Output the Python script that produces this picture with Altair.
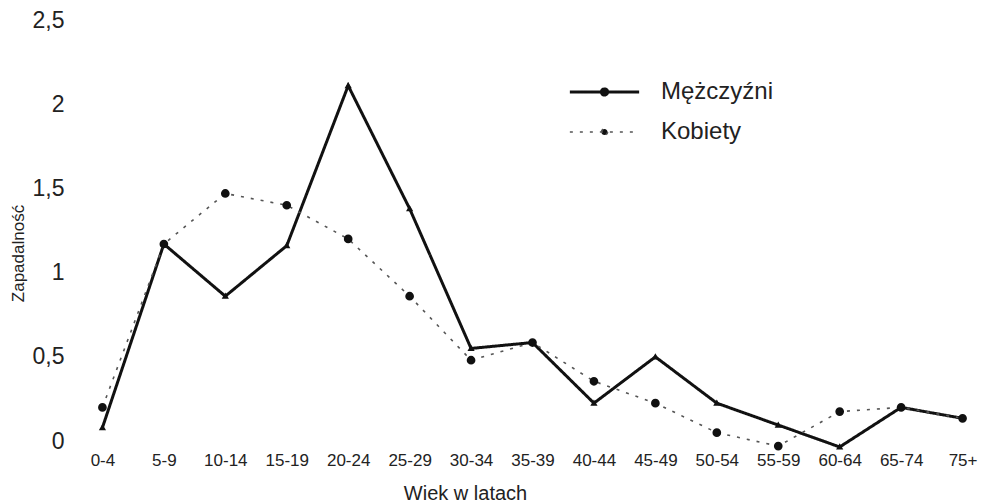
import altair as alt
import pandas as pd

categories = ["0-4", "5-9", "10-14", "15-19", "20-24", "25-29", "30-34", "35-39",
              "40-44", "45-49", "50-54", "55-59", "60-64", "65-74", "75+"]
men = [0.08, 1.17, 0.86, 1.16, 2.11, 1.38, 0.55, 0.585, 0.225, 0.50, 0.225, 0.095, -0.035, 0.20, 0.135]
women = [0.20, 1.17, 1.47, 1.40, 1.20, 0.86, 0.48, 0.585, 0.355, 0.225, 0.05, -0.03, 0.175, 0.20, 0.135]
series = ["Mężczyźni", "Kobiety"]
marker_keys = ["M", "K"]
y_ticks = [0, 0.5, 1, 1.5, 2, 2.5]

rows = []
for s, k, vals in zip(series, marker_keys, [men, women]):
    for c, v in zip(categories, vals):
        rows.append({"wiek": c, "val": v, "plec": s, "marker": k})
df = pd.DataFrame(rows)

FONT = "Liberation Sans"

x = alt.X("wiek:N", sort=categories,
          scale=alt.Scale(type="point", padding=0.3),
          axis=alt.Axis(title="Wiek w latach", labelAngle=0, labelFontSize=17,
                        labelColor="#222", labelFont=FONT, ticks=False, domain=False,
                        grid=False, labelPadding=1, titleFontSize=20, titleFont=FONT,
                        titleFontWeight="normal", titleColor="#222",
                        titleX=381, titleY=42, titleBaseline="middle", titleAlign="center"))
y = alt.Y("val:Q",
          scale=alt.Scale(domain=[-0.059, 2.5], nice=False, zero=False),
          axis=alt.Axis(title="Zapadalność", values=y_ticks, grid=False, ticks=False,
                        domain=False, labelFontSize=23, labelFont=FONT, labelColor="#222",
                        labelPadding=20,
                        labelExpr="replace(toString(datum.value), '.', ',')",
                        titleFontSize=17, titleFont=FONT, titleFontWeight="normal",
                        titleColor="#222", titleX=-66, titleY=233,
                        titleBaseline="middle", titleAlign="center"))

# legend symbol: a horizontal line with a small filled dot in the middle
legend_symbol = ("M-1,0H1M0.09,0A0.09,0.09 0 1,1 -0.09,0A0.09,0.09 0 1,1 0.09,0Z")

line_legend = dict(title=None, orient="none", legendX=484, legendY=60,
                   symbolType=legend_symbol, symbolSize=4800, clipHeight=24,
                   symbolFillColor="#111",
                   labelFontSize=24, labelFont=FONT, labelColor="#222",
                   labelOffset=20, rowPadding=16, padding=0)

lines = alt.Chart(df).mark_line().encode(
    x=x, y=y,
    color=alt.Color("plec:N", scale=alt.Scale(domain=series, range=["#111", "#555"]),
                    legend=alt.Legend(**line_legend)),
    strokeDash=alt.StrokeDash("plec:N", scale=alt.Scale(domain=series, range=[[1, 0], [3, 7]]),
                              legend=alt.Legend(**line_legend)),
    strokeWidth=alt.StrokeWidth("plec:N", scale=alt.Scale(domain=series, range=[3, 1.6]),
                                legend=alt.Legend(**line_legend)),
    order=alt.Order("plec:N"),
)

points = alt.Chart(df).mark_point(filled=True, opacity=1).encode(
    x=x, y=y,
    shape=alt.Shape("marker:N", scale=alt.Scale(domain=marker_keys, range=["triangle-up", "circle"]),
                    legend=None),
    size=alt.Size("marker:N", scale=alt.Scale(domain=marker_keys, range=[14, 45]), legend=None),
    fill=alt.value("#111"),
    stroke=alt.value("#111"),
)

chart = alt.layer(lines, points).properties(
    width=897, height=431,
    background="white",
    autosize=alt.AutoSizeParams(type="none"),
    padding={"left": 76, "top": 12, "right": 0, "bottom": 52},
).configure_view(strokeWidth=0).configure_axis(domain=False, grid=False)

chart.save("out.html", embed_options={"renderer": "svg", "actions": False})
